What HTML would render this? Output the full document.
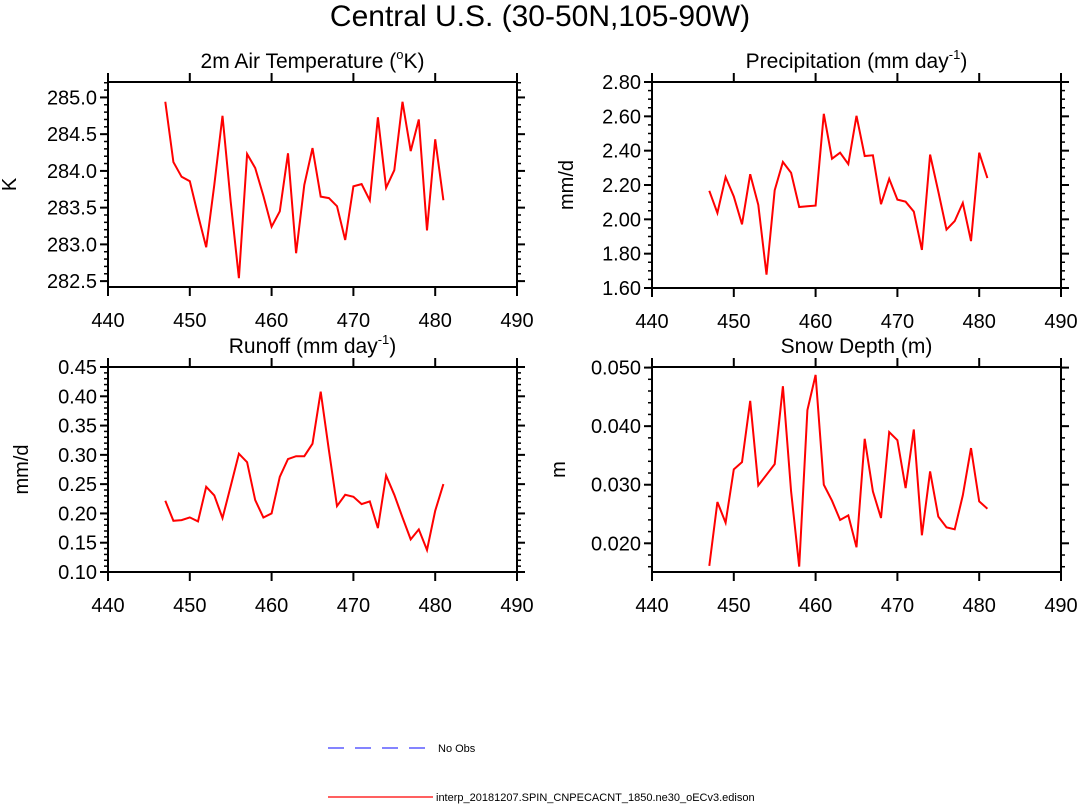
<!DOCTYPE html>
<html><head><meta charset="utf-8">
<style>
body{margin:0;background:#fff;}
svg{display:block;font-family:"Liberation Sans",Arial,sans-serif;}
</style></head>
<body>
<svg id="chart" width="1080" height="804" viewBox="0 0 1080 804" xmlns="http://www.w3.org/2000/svg">
<text x="540" y="26" text-anchor="middle" font-size="30">Central U.S. (30-50N,105-90W)</text>
<g>
<line x1="328" y1="748" x2="435" y2="748" stroke="#3a3aff" stroke-width="1.2" stroke-dasharray="16,11"/>
<text x="438" y="752" font-size="11">No Obs</text>
<line x1="328" y1="797" x2="433" y2="797" stroke="#ff0000" stroke-width="1.2"/>
<text x="436" y="801" font-size="11">interp_20181207.SPIN_CNPECACNT_1850.ne30_oECv3.edison</text>
</g>
</svg>
<script>
const years = [447,448,449,450,451,452,453,454,455,456,457,458,459,460,461,462,463,464,465,466,467,468,469,470,471,472,473,474,475,476,477,478,479,480,481];
const tempValues = [284.94,284.12,283.92,283.86,283.40,282.96,283.81,284.75,283.58,282.54,284.23,284.04,283.66,283.24,283.45,284.24,282.88,283.81,284.31,283.65,283.63,283.52,283.06,283.79,283.82,283.60,284.73,283.77,284.01,284.94,284.27,284.70,283.19,284.43,283.60];
const precipValues = [2.166,2.037,2.246,2.133,1.971,2.263,2.084,1.678,2.170,2.334,2.271,2.072,2.076,2.080,2.615,2.353,2.388,2.322,2.603,2.369,2.373,2.088,2.236,2.115,2.103,2.045,1.822,2.377,2.162,1.940,1.990,2.096,1.873,2.388,2.240];
const runoffValues = [0.2216,0.1875,0.1886,0.1932,0.1864,0.2455,0.2307,0.192,0.2466,0.302,0.2875,0.2227,0.193,0.200,0.2625,0.293,0.2977,0.2977,0.319,0.408,0.308,0.2125,0.2318,0.2284,0.216,0.2205,0.175,0.2648,0.2318,0.193,0.1557,0.1727,0.1375,0.2045,0.25];
const snowValues = [0.01614,0.02705,0.02352,0.03261,0.03386,0.04432,0.02989,0.03170,0.03352,0.04682,0.02886,0.01602,0.04273,0.04875,0.0300,0.02727,0.02398,0.02477,0.01932,0.03784,0.02886,0.02432,0.03898,0.03761,0.02943,0.03943,0.02136,0.03227,0.02455,0.02273,0.02239,0.02818,0.03625,0.02716,0.02591];
const xTicks = [440,450,460,470,480,490];
const tempTicks = [282.5,283.0,283.5,284.0,284.5,285.0];
const precipTicks = [1.6,1.8,2.0,2.2,2.4,2.6,2.8];
const runoffTicks = [0.10,0.15,0.20,0.25,0.30,0.35,0.40,0.45];
const snowTicks = [0.02,0.03,0.04,0.05];

const NS = "http://www.w3.org/2000/svg";
const svg = document.getElementById('chart');
function mk(tag, attrs, parent){
  const e = document.createElementNS(NS, tag);
  for (const k in attrs) e.setAttribute(k, attrs[k]);
  parent.appendChild(e);
  return e;
}
function panel(cfg){
  const {L,T,R,B,ymin,ymax,yticks,minorStep,dec,title,sup,suf,ylabel,vals,key,ylx} = cfg;
  const g = mk('g', {}, svg);
  
  
  const xs = v => L + (v - 440) / 50 * (R - L);
  const ys = v => B - (v - ymin) / (ymax - ymin) * (B - T);
  const t = mk('text', {x:(L+R)/2, y:T-14, 'text-anchor':'middle', 'font-size':21}, g);
  
  
  t.appendChild(document.createTextNode(title));
  if (sup){
    const s = mk('tspan', {'font-size':13, dy:-9}, t); s.textContent = sup;
    const s2 = mk('tspan', {dy:9}, t); s2.textContent = suf;
  }
  const fr = mk('rect', {x:L, y:T, width:R-L, height:B-T, fill:'none', stroke:'#000', 'stroke-width':2}, g);
  
  
  xTicks.forEach(v => {
    const x = xs(v);
    mk('line', {x1:x, y1:T, x2:x, y2:T-9, stroke:'#000', 'stroke-width':2}, g);
    mk('line', {x1:x, y1:B, x2:x, y2:B+9, stroke:'#000', 'stroke-width':2}, g);
    const lb = mk('text', {x:x, y:B+40, 'text-anchor':'middle', 'font-size':20}, g);
    
    
    lb.textContent = v;
  });
  const start = Math.ceil(ymin / minorStep - 1e-6);
  for (let i = start; i * minorStep <= ymax + 1e-9; i++){
    const y = ys(i * minorStep);
    mk('line', {x1:L, y1:y, x2:L-4, y2:y, stroke:'#000', 'stroke-width':1.5}, g);
    mk('line', {x1:R, y1:y, x2:R+4, y2:y, stroke:'#000', 'stroke-width':1.5}, g);
  }
  yticks.forEach(v => {
    const y = ys(v);
    mk('line', {x1:L, y1:y, x2:L-8, y2:y, stroke:'#000', 'stroke-width':2}, g);
    mk('line', {x1:R, y1:y, x2:R+8, y2:y, stroke:'#000', 'stroke-width':2}, g);
    const lb = mk('text', {x:L-11, y:y+7, 'text-anchor':'end', 'font-size':20}, g);
    
    
    lb.textContent = v.toFixed(dec);
  });
  const yl = mk('text', {x:ylx, y:(T+B)/2, 'text-anchor':'middle', 'font-size':20, transform:'rotate(-90 '+ylx+' '+((T+B)/2)+')'}, g);
  
  
  yl.textContent = ylabel;
  const pts = vals.map((v,i) => xs(years[i]).toFixed(1) + ',' + ys(v).toFixed(1)).join(' ');
  const line = mk('polyline', {points:pts, fill:'none', stroke:'#ff0000', 'stroke-width':2, 'stroke-linejoin':'miter'}, g);
  
  
}
panel({L:108,T:82,R:517,B:287,ymin:282.42,ymax:285.21,yticks:tempTicks,minorStep:0.1,dec:1,title:'2m Air Temperature (',sup:'o',suf:'K)',ylabel:'K',vals:tempValues,key:'temperature',ylx:16});
panel({L:652,T:82,R:1061,B:288,ymin:1.6,ymax:2.8,yticks:precipTicks,minorStep:0.05,dec:2,title:'Precipitation (mm day',sup:'-1',suf:')',ylabel:'mm/d',vals:precipValues,key:'precipitation',ylx:573});
panel({L:108,T:367,R:517,B:572,ymin:0.10,ymax:0.45,yticks:runoffTicks,minorStep:0.01,dec:2,title:'Runoff (mm day',sup:'-1',suf:')',ylabel:'mm/d',vals:runoffValues,key:'runoff',ylx:28});
panel({L:652,T:367,R:1061,B:572,ymin:0.0151,ymax:0.0501,yticks:snowTicks,minorStep:0.002,dec:3,title:'Snow Depth (m)',sup:null,suf:null,ylabel:'m',vals:snowValues,key:'snow-depth',ylx:565});
</script>
</body></html>
